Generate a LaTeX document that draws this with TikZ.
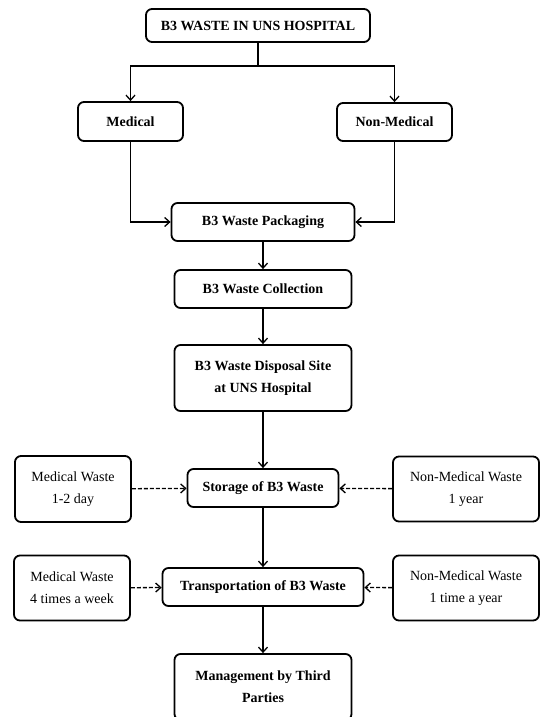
\documentclass[tikz,border=0pt]{standalone}
\usepackage{fontspec}
\setmainfont{Liberation Serif}
\usetikzlibrary{arrows.meta}
\tikzset{
  mainbox/.style={draw, line width=1.8bp, rounded corners=6bp, align=center,
    inner sep=0pt, font=\fontsize{14bp}{22bp}\selectfont\bfseries},
  sidebox/.style={draw, line width=1.8bp, rounded corners=6bp, align=center,
    inner sep=0pt, font=\fontsize{14bp}{22bp}\selectfont},
  flow/.style={line width=1.3bp, -{Straight Barb[length=5bp,width=9bp]}},
  dashflow/.style={flow, dash pattern=on 4bp off 2bp}
}
\begin{document}
\begin{tikzpicture}[x=1bp, y=-1bp]
  \useasboundingbox (0,0) rectangle (540,717);
  \clip (0,0) rectangle (540,717);

  \node[mainbox, minimum width=224bp, minimum height=33bp] (hospital) at (258,25.5) {B3 WASTE IN UNS HOSPITAL};
  \node[mainbox, minimum width=105bp, minimum height=39bp] (medical) at (130.5,121.5) {Medical};
  \node[mainbox, minimum width=115bp, minimum height=38bp] (nonmedical) at (394.5,122) {Non-Medical};
  \node[mainbox, minimum width=183bp, minimum height=38bp] (packaging) at (263,222) {B3 Waste Packaging};
  \node[mainbox, minimum width=177bp, minimum height=38bp] (collection) at (263,289) {B3 Waste Collection};
  \node[mainbox, minimum width=177bp, minimum height=66bp] (disposal) at (263,378) {B3 Waste Disposal Site\\at UNS Hospital};
  \node[mainbox, minimum width=151bp, minimum height=38bp] (storage) at (263,488) {Storage of B3 Waste};
  \node[mainbox, minimum width=201bp, minimum height=38bp] (transport) at (263,587) {Transportation of B3 Waste};
  \node[mainbox, minimum width=177bp, minimum height=66bp] (management) at (263,687) {Management by Third\\Parties};

  \node[sidebox, minimum width=116bp, minimum height=66bp] (medstore) at (73,489) {Medical Waste\\1-2 day};
  \node[sidebox, minimum width=146bp, minimum height=65bp] (nonmedstore) at (466,489) {Non-Medical Waste\\1 year};
  \node[sidebox, minimum width=116bp, minimum height=65bp] (medtrans) at (72,588) {Medical Waste\\4 times a week};
  \node[sidebox, minimum width=146bp, minimum height=65bp] (nonmedtrans) at (466,588) {Non-Medical Waste\\1 time a year};

  \coordinate (split) at (258,66);
  \draw[line width=1.3bp] (hospital) -- (split);
  \draw[flow] (split) -| (medical);
  \draw[flow] (split) -| (nonmedical);
  \draw[flow] (medical) |- (packaging);
  \draw[flow] (nonmedical) |- (packaging);
  \draw[flow] (packaging) -- (collection);
  \draw[flow] (collection) -- (disposal);
  \draw[flow] (disposal) -- (storage);
  \draw[flow] (storage) -- (transport);
  \draw[flow] (transport) -- (management);

  \draw[dashflow] (medstore) -- (storage);
  \draw[dashflow] (nonmedstore) -- (storage);
  \draw[dashflow] (medtrans) -- (transport);
  \draw[dashflow] (nonmedtrans) -- (transport);
\end{tikzpicture}
\end{document}
